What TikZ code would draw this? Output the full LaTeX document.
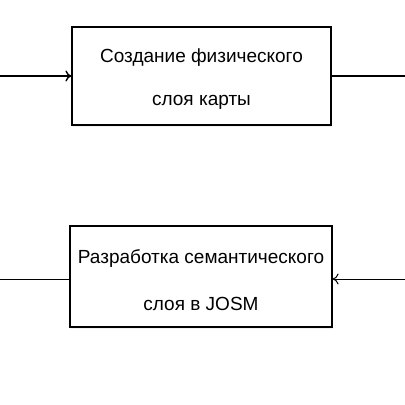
\documentclass[tikz,border=0pt]{standalone}
\usepackage{fontspec}
\setmainfont{Liberation Sans}
\usetikzlibrary{arrows.meta,shadows}
\begin{document}
\begin{tikzpicture}[x=1pt,y=-1pt,
  box/.style={draw,line width=1.2pt,fill=white,
    drop shadow={shadow xshift=1pt,shadow yshift=-2pt,opacity=0.12}},
  txt/.style={font=\fontsize{19}{21}\selectfont,inner sep=0pt},
  conn/.style={line width=1.4pt},
  tip/.style={-{To[length=6pt,width=11pt]}}]
\useasboundingbox (0,0) rectangle (405,405);
\node[box,minimum width=259pt,minimum height=98pt,inner sep=0pt] (b1) at (201.5,76) {};
\node[txt] (t1a) at (b1.center) [yshift=18.5pt] {Создание физического};
\node[txt] (t1b) at (b1.center) [yshift=-26.5pt] {слоя карты};
\node[box,minimum width=262pt,minimum height=101pt,inner sep=0pt] (b2) at (201,276.5) {};
\node[txt] (t2a) at (b2.center) [yshift=18pt] {Разработка семантического};
\node[txt] (t2b) at (b2.center) [yshift=-27pt] {слоя в JOSM};
\coordinate (l1) at (0,76);
\coordinate (r1) at (405,76);
\coordinate (l2) at (0,279);
\coordinate (r2) at (405,279);
\draw[conn,tip] (l1) -- (b1.west |- l1);
\draw[conn] (b1.east |- r1) -- (r1);
\draw[line width=1pt] (l2) -- (b2.west |- l2);
\draw[line width=1pt,tip] (r2) -- (b2.east |- r2);
\end{tikzpicture}
\end{document}
